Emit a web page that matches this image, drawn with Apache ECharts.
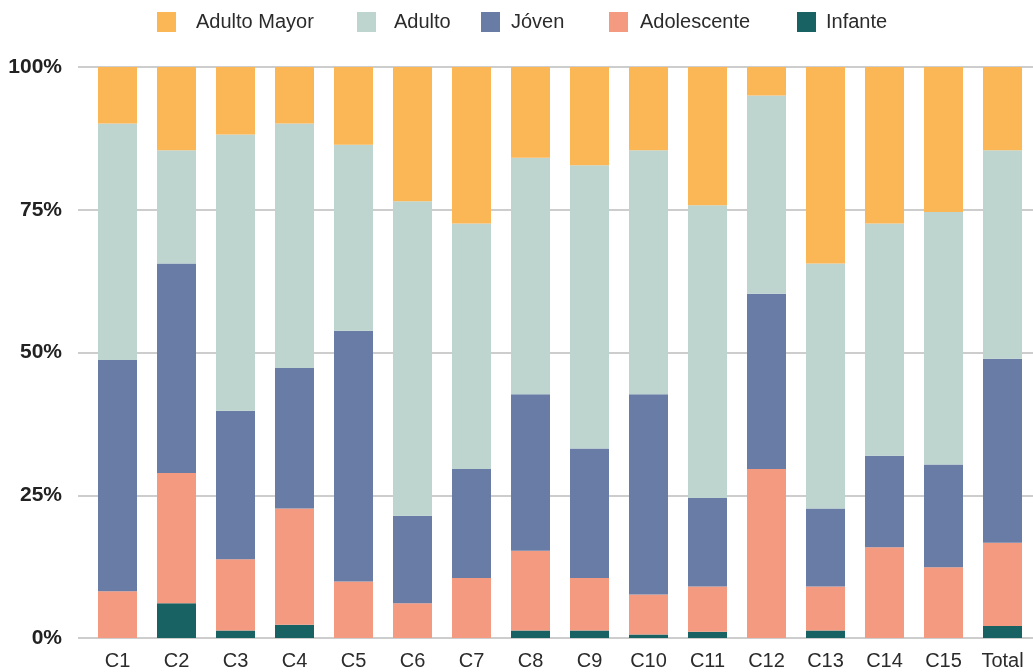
<!DOCTYPE html>
<html>
<head>
<meta charset="utf-8">
<script src="https://cdn.jsdelivr.net/npm/echarts@6/dist/echarts.min.js"></script>
<style>
  html, body { margin: 0; padding: 0; background: #ffffff; }
  #chart { width: 1033px; height: 672px; }
</style>
</head>
<body>
<div id="chart"></div>
<script>
// Age-group share per category (percent of each column)
const categories = ['C1', 'C2', 'C3', 'C4', 'C5', 'C6', 'C7', 'C8', 'C9', 'C10', 'C11', 'C12', 'C13', 'C14', 'C15', 'Total'];
const infante     = [0,    6.1,  1.3,  2.3,  0,    0,    0,    1.3,  1.3,  0.6,  1.1,  0,    1.3,  0,    0,    2.1];
const adolescente = [8.2,  22.8, 12.5, 20.4, 9.9,  6.1,  10.5, 14.0, 9.2,  7.0,  7.9,  29.6, 7.7,  15.9, 12.4, 14.6];
const joven       = [40.5, 36.7, 26.0, 24.6, 43.9, 15.3, 19.1, 27.4, 22.7, 35.1, 15.5, 30.7, 13.7, 16.0, 18.0, 32.2];
const adulto      = [41.4, 19.8, 48.4, 42.8, 32.6, 55.1, 43.0, 41.4, 49.6, 42.7, 51.3, 34.7, 42.9, 40.7, 44.2, 36.5];
const adultoMayor = [9.9,  14.6, 11.8, 9.9,  13.6, 23.5, 27.4, 15.9, 17.2, 14.6, 24.2, 5.0,  34.4, 27.4, 25.4, 14.6];
const yTicks = [0, 25, 50, 75, 100];

const groups = [
  { name: 'Infante',      data: infante,     color: '#186263' },
  { name: 'Adolescente',  data: adolescente, color: '#F49A80' },
  { name: 'Jóven',        data: joven,       color: '#697CA5' },
  { name: 'Adulto',       data: adulto,      color: '#BED4CE' },
  { name: 'Adulto Mayor', data: adultoMayor, color: '#FBB656' }
];

// Legend entries laid out individually (left edge of swatch, gap to text)
const legendSlots = [
  { name: 'Adulto Mayor', left: 157, gap: 20 },
  { name: 'Adulto',       left: 357, gap: 18 },
  { name: 'Jóven',        left: 481, gap: 11 },
  { name: 'Adolescente',  left: 609, gap: 12 },
  { name: 'Infante',      left: 797, gap: 10 }
];

const font = '"Liberation Sans", Arial, Helvetica, sans-serif';
const chart = echarts.init(document.getElementById('chart'), null, { renderer: 'canvas' });

const option = {
  backgroundColor: '#ffffff',
  animation: false,
  textStyle: { fontFamily: font },
  legend: legendSlots.map(s => ({
    data: [s.name],
    left: s.left,
    top: 12,
    padding: 0,
    itemWidth: 19,
    itemHeight: 20,
    icon: 'rect',
    selectedMode: false,
    textStyle: {
      fontFamily: font,
      fontSize: 20,
      color: '#2b2b2b',
      lineHeight: 20,
      padding: [0, 0, 0, s.gap - 5]
    }
  })),
  grid: [
    // background grid carrying the percent scale and gridlines
    { left: 78, right: 0, top: 67, bottom: 34, containLabel: false },
    // grid holding the bars
    { left: 88, right: 1, top: 67, bottom: 34, containLabel: false }
  ],
  xAxis: [
    { type: 'category', gridIndex: 0, data: [''], show: false },
    {
      type: 'category',
      gridIndex: 1,
      data: categories,
      axisLine: { show: false },
      axisTick: { show: false },
      axisLabel: {
        margin: 13,
        fontSize: 20,
        color: '#2b2b2b',
        fontFamily: font,
        interval: 0
      }
    }
  ],
  yAxis: [
    {
      type: 'value',
      gridIndex: 0,
      min: yTicks[0],
      max: yTicks[yTicks.length - 1],
      interval: 25,
      axisLine: { show: false },
      axisTick: { show: false },
      splitLine: { show: true, lineStyle: { color: '#bcbcbc', width: 1.5 } },
      axisLabel: {
        formatter: '{value}%',
        margin: 16,
        fontSize: 21,
        fontWeight: 'bold',
        color: '#222222',
        fontFamily: font
      }
    },
    {
      type: 'value',
      gridIndex: 1,
      min: yTicks[0],
      max: yTicks[yTicks.length - 1],
      interval: 25,
      show: false
    }
  ],
  series: groups.map(g => ({
    name: g.name,
    type: 'bar',
    stack: 'share',
    xAxisIndex: 1,
    yAxisIndex: 1,
    barWidth: 39,
    data: g.data,
    itemStyle: { color: g.color },
    emphasis: { disabled: true }
  }))
};

chart.setOption(option);
</script>
</body>
</html>
